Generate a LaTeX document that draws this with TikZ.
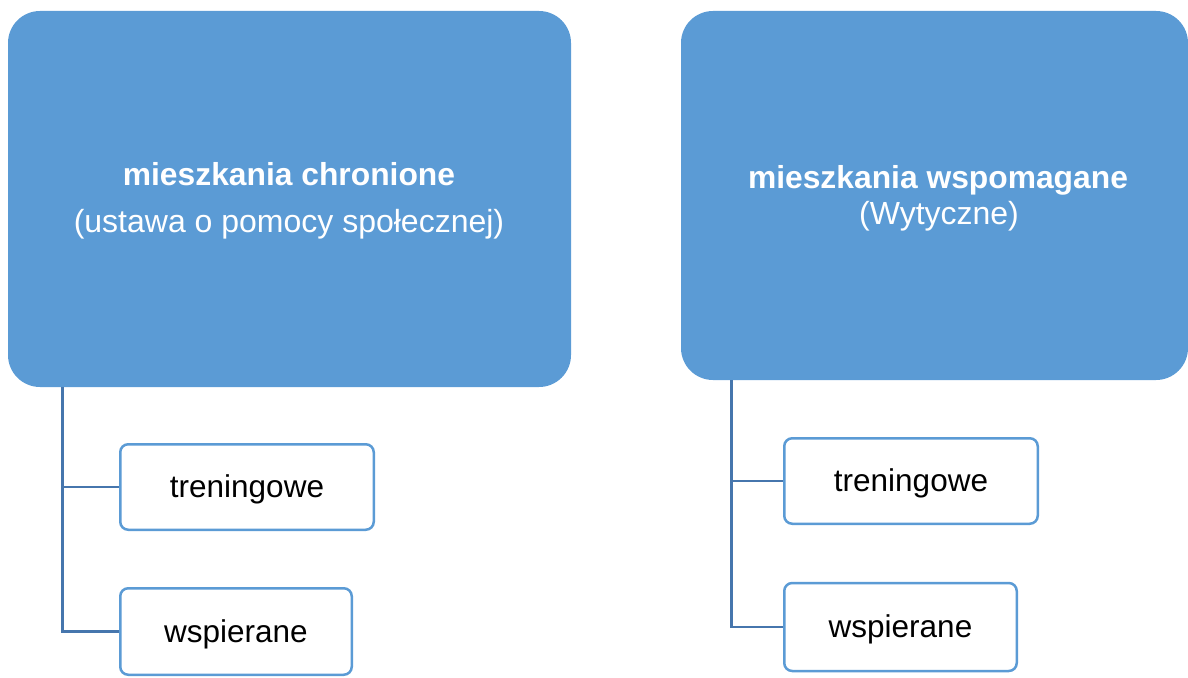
\documentclass[tikz,border=0pt]{standalone}
\usepackage{fontspec}
\setmainfont{Liberation Sans}
\definecolor{boxblue}{HTML}{5B9BD5}
\definecolor{lineblue}{HTML}{4676AD}
\begin{document}
\begin{tikzpicture}[x=1pt,y=-1pt,
  bigbox/.style={fill=boxblue, draw=none, rounded corners=32pt, inner sep=0pt},
  title/.style={text=white, font=\fontsize{31.8}{36}\selectfont\bfseries, inner sep=0pt, anchor=base},
  subtitle/.style={text=white, font=\fontsize{32}{36}\selectfont, inner sep=0pt, anchor=base},
  childbox/.style={draw=boxblue, fill=white, line width=2.5pt, rounded corners=8pt, inner sep=0pt,
    font=\fontsize{31.5}{36}\selectfont, text=black, text height=22pt, text depth=1pt},
  conn/.style={draw=lineblue, line width=2.8pt}]
\useasboundingbox (0,0) rectangle (1188,677);
% left group
\node[bigbox, minimum width=563pt, minimum height=376pt] (A) at (289.5,199) {};
\node[title] (At) at (289,185) {mieszkania chronione};
\node[subtitle] (As) at (289,232) {(ustawa o pomocy społecznej)};
\node[childbox, minimum width=253.5pt, minimum height=85.5pt] (L1) at (247,487) {treningowe};
\node[childbox, minimum width=231.5pt, minimum height=86.5pt] (L2) at (236,631.5) {wspierane};
\draw[conn] ([xshift=55pt]A.south west) |- (L1.west);
\draw[conn] ([xshift=55pt]A.south west) |- (L2.west);
% right group
\node[bigbox, minimum width=507pt, minimum height=369pt] (B) at (934.5,195.5) {};
\node[title] (Bt) at (938,188) {mieszkania wspomagane};
\node[subtitle] (Bs) at (939,224) {(Wytyczne)};
\node[childbox, minimum width=253.5pt, minimum height=85.5pt] (R1) at (911,481) {treningowe};
\node[childbox, minimum width=232.5pt, minimum height=88pt] (R2) at (900.5,627) {wspierane};
\draw[conn] ([xshift=51pt]B.south west) |- (R1.west);
\draw[conn] ([xshift=51pt]B.south west) |- (R2.west);
\end{tikzpicture}
\end{document}
